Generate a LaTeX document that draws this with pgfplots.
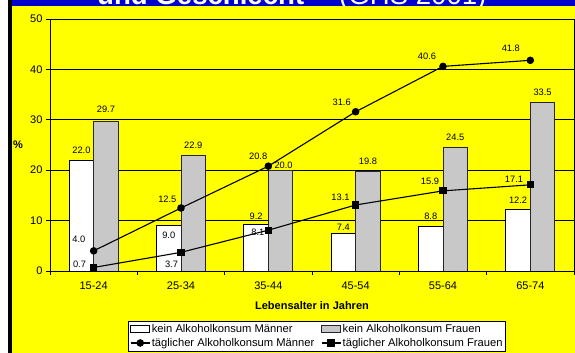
\documentclass[border=0pt]{standalone}
\usepackage{pgfplots}
\pgfplotsset{compat=1.18}
\usepackage{pgfplotstable}
\usepackage{fontspec}
\setmainfont{Liberation Sans}
\definecolor{slideyellow}{RGB}{255,255,0}
\definecolor{slideblue}{RGB}{0,0,204}
\definecolor{bargrey}{RGB}{200,200,200}
\pgfplotsset{
  mybarlegend/.style={legend image code/.code={\draw[##1] (0pt,-3.5pt) rectangle (19pt,3.5pt);}},
  mylinelegend/.style={legend image code/.code={\draw[mark repeat=2,mark phase=2,##1] plot coordinates {(0pt,0pt) (9.5pt,0pt) (19pt,0pt)};}},
  mylabel/.style={every node near coord/.append style={anchor=center, font=\fontsize{9.3}{10}\selectfont, text=black, inner sep=0pt}},
}

\pgfplotstableread{
x m f dm df dxf
0 22.0 29.7 10 12 0
1 9.0 22.9 -10 10.6 0
2 9.2 20.0 8.6 5 3
3 7.4 19.8 6 9.5 0
4 8.8 24.5 10.6 10 0
5 12.2 33.5 9.5 9.5 0
}\bars
\pgfplotstableread{
x m dxm dym f dxf dyf
0 4.0 -14.8 12 0.7 -14.2 3.5
1 12.5 -13.7 9 3.7 -9.5 -11.6
2 20.8 -10.2 10 8.1 -10.5 -1.8
3 31.6 -14 9.6 13.1 -15.2 7.3
4 40.6 -16 10.3 15.9 -13 10
5 41.8 -19.5 12.3 17.1 -16.3 6
}\lines

\begin{document}
\begin{tikzpicture}[x=1pt,y=1pt]
\useasboundingbox (0,0) rectangle (575,353);
\clip (0,0) rectangle (575,353);
\fill[white] (0,0) rectangle (575,353);
\fill[slideblue] (11.7,330) rectangle (575,353);
\node[anchor=base west, text=white, inner sep=0pt, font=\fontsize{27.6}{30}\selectfont\bfseries] at (97,348.6) {und Geschlecht};
\node[anchor=base west, text=white, inner sep=0pt, font=\fontsize{27.6}{30}\selectfont] at (339,348.6) {(GHS 2001)};
\fill[slideyellow] (11.7,0) rectangle (575,347);
\fill[black] (8.3,0) rectangle (11.7,353);
\begin{axis}[
  at={(50pt,82pt)}, anchor=south west, scale only axis,
  width=524pt, height=252pt,
  xmin=-0.5, xmax=5.5, ymin=0, ymax=50,
  xtick={0,...,5},
  xticklabels={15-24,25-34,35-44,45-54,55-64,65-74},
  minor xtick={-0.5,0.5,...,5.5},
  ytick={0,10,...,50},
  tick align=outside, xtick pos=bottom, ytick pos=left,
  major x tick style={draw=none},
  major tick length=4pt, minor tick length=4pt,
  ymajorgrids, grid style={black, line width=0.7pt},
  axis line style={black, line width=0.9pt},
  tick style={black, line width=0.8pt},
  ticklabel style={font=\fontsize{11}{13}\selectfont},
  xticklabel style={yshift=-3pt},
  /pgf/number format/assume math mode=true,
  legend columns=2,
  legend cell align=left,
  legend style={at={(0.1494,-0.197)}, anchor=north west,
    font=\fontsize{11.2}{12}\selectfont, draw=black, line width=0.8pt,
    fill=white, inner xsep=1.5pt, inner ysep=1.2pt,
    nodes={inner xsep=1.6pt, inner ysep=2.1pt, text depth=0.15em},
    /tikz/every even column/.append style={column sep=5pt}},
  nodes near coords={\pgfmathprintnumber[fixed,fixed zerofill,precision=1]{\pgfplotspointmeta}},
]
\addplot[ybar, bar width=24.5pt, bar shift=-12.25pt, fill=white, draw=black, line width=0.8pt,
  mybarlegend, mylabel,
  visualization depends on={\thisrow{dm} \as \dy},
  every node near coord/.append style={yshift=\dy, xshift=-12.25pt}
] table[x=x,y=m] {\bars};
\addlegendentry{kein Alkoholkonsum Männer}
\addplot[ybar, bar width=24.5pt, bar shift=12.25pt, fill=bargrey, draw=black!85, line width=0.8pt,
  mybarlegend, mylabel,
  visualization depends on={\thisrow{df} \as \dy},
  visualization depends on={\thisrow{dxf} \as \dx},
  every node near coord/.append style={yshift=\dy, xshift=\dx, xshift=12.25pt}
] table[x=x,y=f] {\bars};
\addlegendentry{kein Alkoholkonsum Frauen}
\addplot[black, line width=1.1pt, mark=*, mark size=3.2pt, mark options={solid, fill=black},
  mylinelegend, mylabel,
  visualization depends on={\thisrow{dxm} \as \dx},
  visualization depends on={\thisrow{dym} \as \dy},
  every node near coord/.append style={xshift=\dx, yshift=\dy}
] table[x=x,y=m] {\lines};
\addlegendentry{täglicher Alkoholkonsum Männer}
\addplot[black, line width=1.1pt, mark=square*, mark size=3pt, mark options={solid, fill=black},
  mylinelegend, mylabel,
  visualization depends on={\thisrow{dxf} \as \dx},
  visualization depends on={\thisrow{dyf} \as \dy},
  every node near coord/.append style={xshift=\dx, yshift=\dy}
] table[x=x,y=f] {\lines};
\addlegendentry{täglicher Alkoholkonsum Frauen}
\end{axis}
\node[font=\fontsize{11}{13}\selectfont\bfseries] at (312,47) {Lebensalter in Jahren};
\node[font=\fontsize{11}{13}\selectfont\bfseries] at (18,208) {\%};
\end{tikzpicture}
\end{document}
